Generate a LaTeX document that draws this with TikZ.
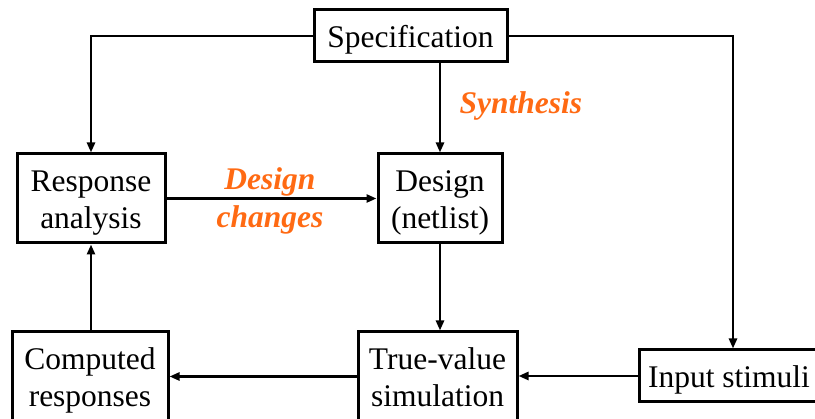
\documentclass[tikz,border=0pt]{standalone}
\usepackage{fontspec}
\setmainfont{Liberation Serif}
\usetikzlibrary{arrows.meta}
\definecolor{lblorange}{HTML}{FF6A13}
\newcommand{\lowtxt}[1]{\raisebox{-4pt}[\height][\depth]{\begin{tabular}{@{}c@{}}#1\end{tabular}}}
\tikzset{
  blk/.style={draw, line width=3pt, inner sep=0pt, align=center,
    font=\fontsize{31.5}{37}\selectfont},
  conn/.style={line width=2.5pt, -{Triangle[length=10pt,width=8pt]}},
  lbl/.style={text=lblorange, font=\fontsize{31.5}{38}\selectfont\bfseries\itshape, align=center}
}
\begin{document}
\begin{tikzpicture}[x=1pt,y=-1pt]
\useasboundingbox (0,0) rectangle (815,419);
\node[blk, minimum width=193pt, minimum height=52pt] (spec) at (410.5,36) {\lowtxt{Specification}};
\node[blk, minimum width=148pt, minimum height=89pt] (resp) at (91,198.5) {\lowtxt{Response\\analysis}};
\node[blk, minimum width=124pt, minimum height=89pt] (design) at (440,198.5) {\lowtxt{Design\\(netlist)}};
\node[blk, minimum width=156pt, minimum height=89pt] (comp) at (90,376.5) {\lowtxt{Computed\\responses}};
\node[blk, minimum width=159pt, minimum height=89pt] (tv) at (437.5,376.5) {\lowtxt{True-value\\simulation}};
\node[blk, minimum width=180pt, minimum height=52pt] (inp) at (729,376) {\lowtxt{Input stimuli}};
\coordinate (lcorner) at (91,36);
\coordinate (rcorner) at (733,36);
\draw[conn] (spec.west) -- (lcorner) -- (resp.north);
\draw[conn] (spec.east) -- (rcorner) -- (rcorner |- inp.north);
\draw[conn] (spec.south -| design.north) -- (design.north);
\draw[conn] (resp.east) -- (design.west);
\draw[conn] (design.south) -- (design.south |- tv.north);
\draw[conn] (inp.west) -- (inp.west -| tv.east);
\draw[conn] (tv.west |- comp.east) -- (comp.east);
\draw[conn] (comp.north -| resp.south) -- (resp.south);
\node[lbl, anchor=west] (syn) at (456,106) {Synthesis};
\node[lbl] (dch) at (270,201) {Design\\changes};
\end{tikzpicture}
\end{document}
